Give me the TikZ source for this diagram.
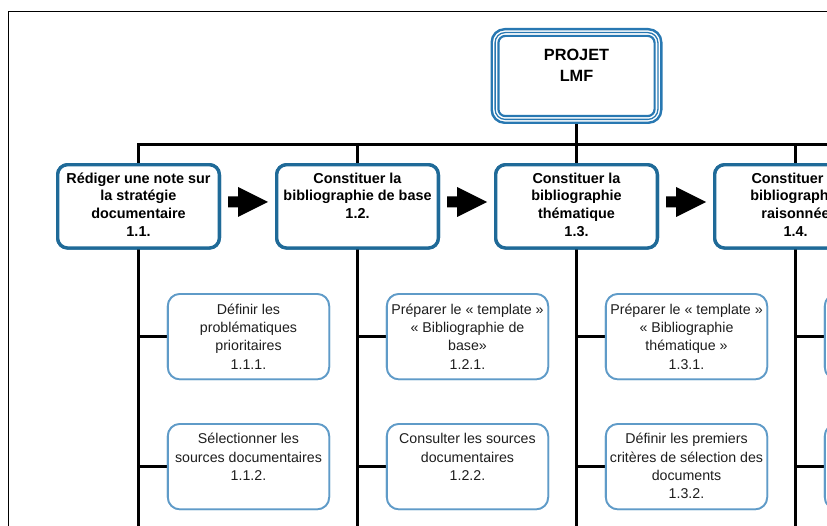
\documentclass[tikz,border=0pt]{standalone}
\usepackage{fontspec}
\setmainfont{Liberation Sans}
\usetikzlibrary{calc}
\definecolor{lblue}{RGB}{31,106,152}
\definecolor{sblue}{RGB}{95,155,200}
\definecolor{pblue}{RGB}{40,120,178}
\definecolor{txt}{RGB}{30,30,30}
\begin{document}
\begin{tikzpicture}[x=1pt,y=-1pt,
  lone/.style={draw=lblue, line width=3.3pt, rounded corners=10pt, minimum width=161.7pt, minimum height=83.3pt, inner sep=0pt, outer sep=0pt, fill=white},
  lonetext/.style={anchor=north, align=center, inner sep=0pt, font=\bfseries\fontsize{14.4}{17.7}\selectfont, text=black},
  subbox/.style={draw=sblue, line width=1.8pt, rounded corners=12pt, minimum width=161.3pt, minimum height=85.3pt, inner sep=0pt, outer sep=0pt, fill=white},
  subtext/.style={anchor=north, align=center, inner sep=0pt, font=\fontsize{14.2}{18.3}\selectfont, text=txt},
  conn/.style={line width=3pt, draw=black},
  projtext/.style={anchor=north, align=center, inner sep=0pt, font=\bfseries\fontsize{16.3}{21}\selectfont, text=black}
]
\useasboundingbox (0,0) rectangle (827,526);
\fill[white] (0,0) rectangle (827,526);
\clip (0,0) rectangle (827,526);
% frame
\draw[line width=1.6pt, black] (8.3,560) -- (8.3,11.7) -- (860,11.7);

% project node
\node[minimum width=172pt, minimum height=96pt, inner sep=0pt, outer sep=0pt] (proj) at (576.5,76) {};
\coordinate (busR) at (880,145);
\coordinate (bot) at (0,560);

% level-1 boxes
\node[lone] (b11) at (138.5,206.35) {};
\node[lone] (b12) at (357.5,206.35) {};
\node[lone] (b13) at (576.5,206.35) {};
\node[lone] (b14) at (795.5,206.35) {};

% sub boxes
\node[subbox] (s111) at (248.5,336.65) {};
\node[subbox] (s112) at (248.5,466.65) {};
\node[subbox] (s121) at (467.5,336.65) {};
\node[subbox] (s122) at (467.5,466.65) {};
\node[subbox] (s131) at (686.5,336.65) {};
\node[subbox] (s132) at (686.5,466.65) {};
\node[subbox] (s141) at (905.5,336.65) {};
\node[subbox] (s142) at (905.5,466.65) {};

% connectors
\draw[conn] (b11.north) |- (busR);
\draw[conn] (proj.south) -- (proj.south |- busR);
\draw[conn] (b12.north) -- (b12.north |- busR);
\draw[conn] (b13.north) -- (b13.north |- busR);
\draw[conn] (b14.north) -- (b14.north |- busR);
\foreach \b in {b11,b12,b13,b14}{\draw[conn] (\b.south) -- (\b.south |- bot);}
\draw[conn] (s111.west) -- (s111.west -| b11.south);
\draw[conn] (s112.west) -- (s112.west -| b11.south);
\draw[conn] (s121.west) -- (s121.west -| b12.south);
\draw[conn] (s122.west) -- (s122.west -| b12.south);
\draw[conn] (s131.west) -- (s131.west -| b13.south);
\draw[conn] (s132.west) -- (s132.west -| b13.south);
\draw[conn] (s141.west) -- (s141.west -| b14.south);
\draw[conn] (s142.west) -- (s142.west -| b14.south);

% redraw boxes on top of lines
\foreach \b in {b11,b12,b13,b14}{\path[lone] (\b.south west) rectangle (\b.north east);}
\foreach \b in {s111,s112,s121,s122,s131,s132,s141,s142}{\path[subbox] (\b.south west) rectangle (\b.north east);}

% project box: triple border
\draw[pblue, line width=2.4pt, rounded corners=13pt, fill=white] ($(proj.south west)+(1.2,-1.2)$) rectangle ($(proj.north east)+(-1.2,1.2)$);
\draw[pblue, line width=1.3pt, rounded corners=10pt] ($(proj.south west)+(4.6,-4.6)$) rectangle ($(proj.north east)+(-4.6,4.6)$);
\draw[pblue, line width=2.2pt, rounded corners=7pt] ($(proj.south west)+(7.9,-7.9)$) rectangle ($(proj.north east)+(-7.9,7.9)$);
\node[projtext] (tproj) at ($(proj.north)+(0,17.3)$) {\strut PROJET\\LMF};

% block arrows
\foreach \a/\b [count=\i] in {b11/b12,b12/b13,b13/b14}{
  \coordinate (m\i) at ($(\a.east)!0.5!(\b.west)+(0,-4.35)$);
  \fill[black, shift={(m\i)}] (-20,-5.5) -- (-10,-5.5) -- (-10,-15) -- (20,0) -- (-10,15) -- (-10,5.5) -- (-20,5.5) -- cycle;
}

% level-1 texts
\node[lonetext] (t11) at ($(b11.north)+(0,5.9)$) {\strut Rédiger une note sur\\la stratégie\\documentaire\\1.1.};
\node[lonetext] (t12) at ($(b12.north)+(0,5.9)$) {\strut Constituer la\\bibliographie de base\\1.2.};
\node[lonetext] (t13) at ($(b13.north)+(0,5.9)$) {\strut Constituer la\\bibliographie\\thématique\\1.3.};
\node[lonetext] (t14) at ($(b14.north)+(0,5.9)$) {\strut Constituer la\\bibliographie\\raisonnée\\1.4.};

% sub texts
\node[subtext] (t111) at ($(s111.north)+(0,7.2)$) {\strut Définir les\\problématiques\\prioritaires\\1.1.1.};
\node[subtext] (t112) at ($(s112.north)+(0,6.8)$) {\strut Sélectionner les\\sources documentaires\\1.1.2.};
\node[subtext] (t121) at ($(s121.north)+(0,7.2)$) {\strut Préparer le « template »\\« Bibliographie de\\base»\\1.2.1.};
\node[subtext] (t122) at ($(s122.north)+(0,6.8)$) {\strut Consulter les sources\\documentaires\\1.2.2.};
\node[subtext] (t131) at ($(s131.north)+(0,7.2)$) {\strut Préparer le « template »\\« Bibliographie\\thématique »\\1.3.1.};
\node[subtext] (t132) at ($(s132.north)+(0,6.8)$) {\strut Définir les premiers\\critères de sélection des\\documents\\1.3.2.};
\end{tikzpicture}
\end{document}
